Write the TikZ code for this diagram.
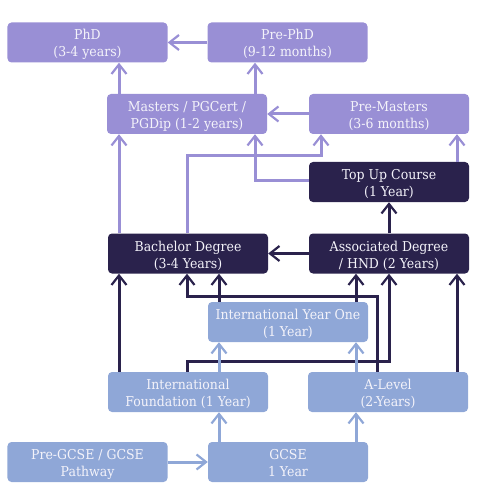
\documentclass[tikz,border=0pt]{standalone}
\usepackage{fontspec}
\setmainfont{DejaVu Serif}[FakeStretch=0.92]
\usetikzlibrary{arrows.meta}
\definecolor{lp}{HTML}{998FD5}
\definecolor{dk}{HTML}{2A224C}
\definecolor{lb}{HTML}{8FA7D7}
\definecolor{tx}{HTML}{F4F3FA}
\tikzset{
  box/.style={rounded corners=4bp, minimum width=160bp, minimum height=40bp,
    inner sep=0pt, align=center, text=tx, text height=31bp, text depth=2bp,
    font=\fontsize{13.6bp}{17bp}\selectfont},
  lpbox/.style={box, fill=lp},
  dkbox/.style={box, fill=dk},
  lbbox/.style={box, fill=lb},
  conn/.style={line width=3bp, -{Straight Barb[length=9.5bp,width=15bp,line width=2.2bp]}},
  lpc/.style={conn, draw=lp},
  dkc/.style={conn, draw=dk},
  lbc/.style={conn, draw=lb},
}
\begin{document}
\begin{tikzpicture}[x=1bp,y=-1bp]
\useasboundingbox (0,0) rectangle (479,501);
\node[lpbox] (PhD) at (87.5,42.5) {PhD\\(3-4 years)};
\node[lpbox] (PrePhD) at (287.5,42.5) {Pre-PhD\\(9-12 months)};
\node[lpbox] (Masters) at (187,114) {Masters / PGCert /\\PGDip (1-2 years)};
\node[lpbox] (PreMasters) at (389,114) {Pre-Masters\\(3-6 months)};
\node[dkbox] (TopUp) at (389,182) {Top Up Course\\(1 Year)};
\node[dkbox] (Bachelor) at (188,253.5) {Bachelor Degree\\(3-4 Years)};
\node[dkbox] (Assoc) at (389,253.5) {Associated Degree\\/ HND (2 Years)};
\node[lbbox] (IYO) at (288,322) {International Year One\\(1 Year)};
\node[lbbox] (IF) at (188,392) {International\\Foundation (1 Year)};
\node[lbbox] (ALevel) at (388,392) {A-Level\\(2-Years)};
\node[lbbox] (PreGCSE) at (87.5,462) {Pre-GCSE / GCSE\\Pathway};
\node[lbbox] (GCSE) at (288,462) {GCSE\\1 Year};
% light purple
\draw[lpc] (PrePhD.west) -- (PhD.east);
\draw[lpc] (Masters.north -| 119,0) -- (PhD.south -| 119,0);
\draw[lpc] (Masters.north -| 255,0) -- (PrePhD.south -| 255,0);
\draw[lpc] (PreMasters.west) -- (Masters.east);
\draw[lpc] (Bachelor.north -| 119,0) -- (Masters.south -| 119,0);
\draw[lpc] (Bachelor.north -| 187,0) -- (187,156) -| (PreMasters.south -| 321,0);
\draw[lpc] (TopUp.west |- 0,181) -| (Masters.south -| 255,0);
\draw[lpc] (TopUp.north -| 457,0) -- (PreMasters.south -| 457,0);
% dark
\draw[dkc] (Assoc.north) -- (TopUp.south);
\draw[dkc] (Assoc.west) -- (Bachelor.east);
\draw[dkc] (IF.north -| 119,0) -- (Bachelor.south -| 119,0);
\draw[dkc] (ALevel.north -| 457,0) -- (Assoc.south -| 457,0);
\draw[dkc] (IYO.north -| 219,0) -- (Bachelor.south -| 219,0);
\draw[dkc] (IYO.north -| 356,0) -- (Assoc.south -| 356,0);
\draw[dkc] (ALevel.north -| 377,0) -- (377,296) -| (Bachelor.south -| 187,0);
\draw[dkc] (IF.north -| 187,0) -- (187,361) -| (Assoc.south -| 389,0);
% light blue
\draw[lbc] (IF.north -| 219,0) -- (IYO.south -| 219,0);
\draw[lbc] (ALevel.north -| 356,0) -- (IYO.south -| 356,0);
\draw[lbc] (GCSE.north -| 219,0) -- (IF.south -| 219,0);
\draw[lbc] (GCSE.north -| 356,0) -- (ALevel.south -| 356,0);
\draw[lbc] (PreGCSE.east) -- (GCSE.west);
\end{tikzpicture}
\end{document}
